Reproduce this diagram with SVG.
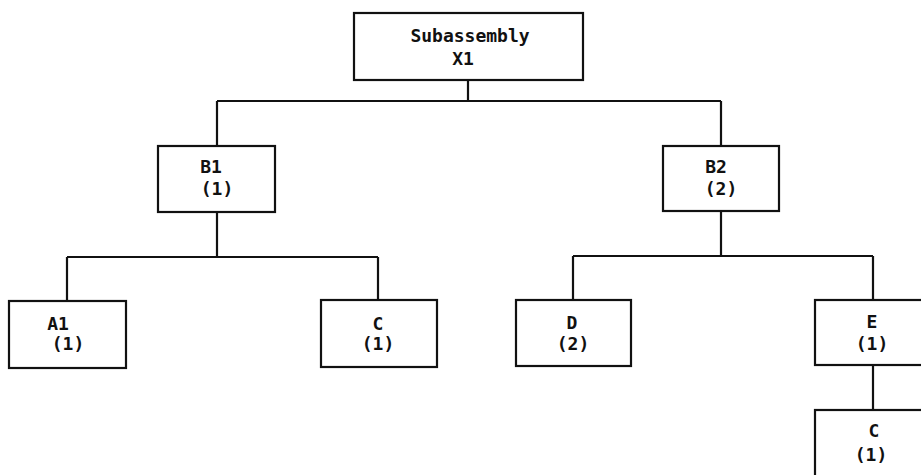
<svg xmlns="http://www.w3.org/2000/svg" width="921" height="475" viewBox="0 0 921 475">
<style>
.box{fill:#fff;stroke:#111;stroke-width:2.2}
.ln{fill:none;stroke:#111;stroke-width:2.2}
text{font-family:"DejaVu Sans Mono","Liberation Mono",monospace;font-weight:bold;font-size:18px;fill:#111;text-anchor:middle}
</style>
<rect width="921" height="475" fill="#fff"/>
<g id="connectors">
<path class="ln" d="M468,80 V101 M217,101 H721 M217,101 V146 M721,101 V146"/>
<path class="ln" d="M217,212 V257 M67,257 H378 M67,257 V301 M378,257 V300"/>
<path class="ln" d="M721,211 V256 M573,256 H873 M573,256 V300 M873,256 V300"/>
<path class="ln" d="M873,365 V410"/>
</g>
<g id="x1"><rect class="box" x="354" y="13" width="229" height="67"/><text x="470" y="42">Subassembly</text><text x="463" y="65">X1</text></g>
<g id="b1"><rect class="box" x="158" y="146" width="117" height="66"/><text x="211" y="173">B1</text><text x="217" y="195">(1)</text></g>
<g id="b2"><rect class="box" x="663" y="146" width="116" height="65"/><text x="716" y="173">B2</text><text x="721" y="195">(2)</text></g>
<g id="a1"><rect class="box" x="9" y="301" width="117" height="67"/><text x="58" y="330">A1</text><text x="68" y="350">(1)</text></g>
<g id="c1"><rect class="box" x="321" y="300" width="116" height="67"/><text x="378" y="330">C</text><text x="378" y="350">(1)</text></g>
<g id="d"><rect class="box" x="516" y="300" width="115" height="66"/><text x="572" y="329">D</text><text x="573" y="350">(2)</text></g>
<g id="e"><rect class="box" x="815" y="300" width="112" height="65"/><text x="872" y="328">E</text><text x="872" y="350">(1)</text></g>
<g id="c2"><rect class="box" x="815" y="410" width="112" height="72"/><text x="874" y="437">C</text><text x="871" y="461">(1)</text></g>
</svg>
